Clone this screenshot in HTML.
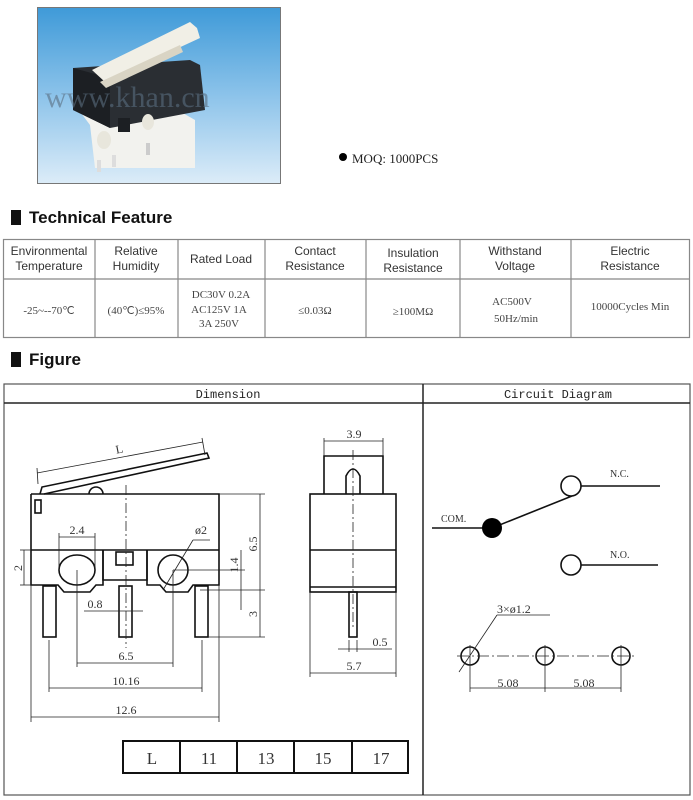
<!DOCTYPE html>
<html><head><meta charset="utf-8"><style>
html,body{margin:0;padding:0;background:#fff}
svg{display:block}
.s{font-family:"Liberation Serif",serif}
.a{font-family:"Liberation Sans",sans-serif}
.m{font-family:"Liberation Mono",monospace}
</style></head><body>
<svg width="693" height="800" viewBox="0 0 693 800" xmlns="http://www.w3.org/2000/svg">
<defs>
<linearGradient id="bg" x1="0" y1="0" x2="0" y2="1">
<stop offset="0" stop-color="#3f9ad8"/><stop offset="0.5" stop-color="#8cc3ea"/><stop offset="1" stop-color="#dcecf8"/>
</linearGradient>
</defs>
<!-- photo -->
<rect x="37.5" y="7.5" width="243" height="176" fill="url(#bg)" stroke="#777"/>
<polygon points="75,105 90,125 95,168 195,168 195,120 160,100" fill="#f2f2ee"/>
<polygon points="73,68 190,60 200,65 205,110 110,128 73,110" fill="#2a2e33"/>
<polygon points="73,68 110,78 110,128 73,110" fill="#1c1f23"/>
<polygon points="92,70 190,22 197,28 200,38 105,82" fill="#f1efe6"/>
<polygon points="100,82 180,45 183,52 106,88" fill="#d9d4c4"/>
<rect x="118" y="118" width="12" height="14" fill="#1c1f23"/>
<ellipse cx="104" cy="140" rx="7" ry="9" fill="#e8e6dc"/>
<ellipse cx="148" cy="122" rx="6" ry="8" fill="#e8e6dc"/>
<rect x="97" y="160" width="4" height="12" fill="#ddd"/><rect x="112" y="155" width="4" height="12" fill="#ddd"/><rect x="146" y="143" width="4" height="12" fill="#ccc"/>
<text x="45" y="107" class="s" font-size="30" fill="#5a6e80" opacity="0.6">www.khan.cn</text>
<circle cx="343" cy="157" r="4" fill="#000"/>
<text x="352" y="163" class="s" font-size="13" fill="#222">MOQ: 1000PCS</text>

<!-- technical feature -->
<rect x="11" y="210" width="10" height="15" fill="#111"/>
<text x="29" y="223" class="a" font-size="17" font-weight="bold" fill="#111">Technical Feature</text>
<g stroke="#888" stroke-width="1.2" fill="none">
<rect x="3.5" y="239.5" width="686" height="98"/>
<line x1="3" y1="279" x2="690" y2="279"/>
<line x1="95" y1="239" x2="95" y2="338"/><line x1="178" y1="239" x2="178" y2="338"/>
<line x1="265" y1="239" x2="265" y2="338"/><line x1="366" y1="239" x2="366" y2="338"/>
<line x1="460" y1="239" x2="460" y2="338"/><line x1="571" y1="239" x2="571" y2="338"/>
</g>
<g class="a" font-size="12" fill="#333" text-anchor="middle">
<text x="49" y="255">Environmental</text><text x="49" y="270">Temperature</text>
<text x="136" y="255">Relative</text><text x="136" y="270">Humidity</text>
<text x="221" y="263">Rated Load</text>
<text x="315" y="255">Contact</text><text x="315" y="270">Resistance</text>
<text x="413" y="257">Insulation</text><text x="413" y="272">Resistance</text>
<text x="515" y="255">Withstand</text><text x="515" y="270">Voltage</text>
<text x="630" y="255">Electric</text><text x="630" y="270">Resistance</text>
</g>
<g class="s" font-size="11" fill="#444" text-anchor="middle">
<text x="49" y="314">-25~--70℃</text>
<text x="136" y="314">(40℃)≤95%</text>
<text x="221" y="298">DC30V 0.2A</text><text x="219" y="313">AC125V 1A</text><text x="219" y="327">3A 250V</text>
<text x="315" y="314">≤0.03Ω</text>
<text x="413" y="315">≥100MΩ</text>
<text x="512" y="305">AC500V</text><text x="516" y="322">50Hz/min</text>
<text x="630" y="310">10000Cycles Min</text>
</g>

<!-- figure -->
<rect x="11" y="352" width="10" height="15" fill="#111"/>
<text x="29" y="365" class="a" font-size="17" font-weight="bold" fill="#111">Figure</text>
<g stroke="#555" fill="none">
<rect x="4" y="384" width="686" height="411" stroke-width="1.2"/>
<line x1="4" y1="403" x2="690" y2="403" stroke="#222" stroke-width="1.5"/>
<line x1="423" y1="384" x2="423" y2="795" stroke="#222" stroke-width="1.5"/>
</g>
<text x="228" y="398" class="m" font-size="12" fill="#222" text-anchor="middle">Dimension</text>
<text x="558" y="398" class="m" font-size="12" fill="#222" text-anchor="middle">Circuit Diagram</text>

<!-- dimension drawing -->
<g stroke="#111" fill="none" stroke-width="1.6">
<path d="M31,494 H219 V585 H193 L188,592 H166 L160,585 H147 V550 M31,494 V585 H58 L64,592 H90 L96,585 H103 V550"/>
<line x1="31" y1="550" x2="219" y2="550"/>
<path d="M103,550 V580 H147 V550"/>
<ellipse cx="77" cy="570" rx="18" ry="15"/>
<circle cx="173" cy="570" r="15"/>
<rect x="116" y="552" width="17" height="13"/>
<rect x="35" y="500" width="6" height="13"/>
<rect x="43" y="586" width="13" height="51"/>
<rect x="119" y="586" width="13" height="51"/>
<rect x="195" y="586" width="13" height="51"/>
<path d="M40,494 L42,487 L207,453 L209,458 L44,494"/>
<path d="M89,494 A7,7 0 0 1 103,494"/>
<rect x="310" y="494" width="86" height="98"/>
<line x1="310" y1="550" x2="396" y2="550"/>
<line x1="310" y1="587" x2="396" y2="587"/>
<path d="M324,494 V456 H383 V494"/>
<path d="M346,494 V476 Q353,462 360,476 V494"/>
<rect x="349" y="592" width="8" height="45"/>
</g>
<g stroke="#222" stroke-width="0.8" fill="none">
<line x1="126" y1="485" x2="126" y2="648" stroke-dasharray="10,3,2,3"/>
<line x1="353" y1="450" x2="353" y2="630" stroke-dasharray="10,3,2,3"/>
<line x1="37" y1="473" x2="203" y2="442"/><line x1="37" y1="468" x2="38" y2="484"/><line x1="202" y1="438" x2="205" y2="455"/>
<line x1="219" y1="494" x2="265" y2="494"/><line x1="200" y1="590" x2="265" y2="590"/><line x1="208" y1="637" x2="265" y2="637"/>
<line x1="260" y1="494" x2="260" y2="637"/>
<line x1="173" y1="570" x2="245" y2="570"/><line x1="241" y1="550" x2="241" y2="610"/>
<line x1="20" y1="550" x2="31" y2="550"/><line x1="20" y1="585" x2="31" y2="585"/><line x1="24" y1="550" x2="24" y2="585"/>
<line x1="59" y1="537" x2="95" y2="537"/><line x1="59" y1="533" x2="59" y2="570"/><line x1="95" y1="533" x2="95" y2="570"/>
<line x1="163" y1="590" x2="193" y2="540"/><line x1="193" y1="540" x2="210" y2="540"/>
<line x1="84" y1="611" x2="143" y2="611"/>
<line x1="77" y1="570" x2="77" y2="667"/><line x1="173" y1="570" x2="173" y2="667"/>
<line x1="77" y1="663" x2="173" y2="663"/>
<line x1="49" y1="640" x2="49" y2="692"/><line x1="202" y1="640" x2="202" y2="692"/>
<line x1="49" y1="688" x2="202" y2="688"/>
<line x1="31" y1="585" x2="31" y2="722"/><line x1="219" y1="585" x2="219" y2="722"/>
<line x1="31" y1="717" x2="219" y2="717"/>
<line x1="324" y1="438" x2="324" y2="456"/><line x1="383" y1="438" x2="383" y2="456"/><line x1="324" y1="441" x2="383" y2="441"/>
<line x1="310" y1="592" x2="310" y2="677"/><line x1="396" y1="592" x2="396" y2="677"/><line x1="310" y1="673" x2="396" y2="673"/>
<line x1="349" y1="640" x2="349" y2="652"/><line x1="357" y1="640" x2="357" y2="652"/><line x1="338" y1="649" x2="392" y2="649"/>
</g>
<g class="s" font-size="12" fill="#333" text-anchor="middle">
<text x="120" y="453" transform="rotate(-11 120 453)">L</text>
<text x="77" y="534">2.4</text>
<text x="201" y="534">ø2</text>
<text x="95" y="608">0.8</text>
<text x="126" y="660">6.5</text>
<text x="126" y="685">10.16</text>
<text x="126" y="714">12.6</text>
<text x="354" y="438">3.9</text>
<text x="354" y="670">5.7</text>
<text x="380" y="646">0.5</text>
<text transform="translate(257 544) rotate(-90)">6.5</text>
<text transform="translate(238 565) rotate(-90)">1.4</text>
<text transform="translate(257 614) rotate(-90)">3</text>
<text transform="translate(22 568) rotate(-90)">2</text>
</g>
<g stroke="#111" stroke-width="2" fill="none">
<rect x="123" y="741" width="285" height="32"/>
<line x1="180" y1="741" x2="180" y2="773"/><line x1="237" y1="741" x2="237" y2="773"/>
<line x1="294" y1="741" x2="294" y2="773"/><line x1="352" y1="741" x2="352" y2="773"/>
</g>
<g class="s" font-size="17" fill="#333" text-anchor="middle">
<text x="152" y="764">L</text><text x="209" y="764">11</text><text x="266" y="764">13</text><text x="323" y="764">15</text><text x="381" y="764">17</text>
</g>

<!-- circuit -->
<g stroke="#111" stroke-width="1.6" fill="none">
<line x1="432" y1="528" x2="492" y2="528"/>
<line x1="492" y1="528" x2="572" y2="496"/>
<circle cx="571" cy="486" r="10" fill="#fff"/>
<line x1="581" y1="486" x2="660" y2="486"/>
<circle cx="571" cy="565" r="10" fill="#fff"/>
<line x1="581" y1="565" x2="658" y2="565"/>
<circle cx="470" cy="656" r="9"/><circle cx="545" cy="656" r="9"/><circle cx="621" cy="656" r="9"/>
</g>
<circle cx="492" cy="528" r="10" fill="#000"/>
<g stroke="#222" stroke-width="0.8" fill="none">
<line x1="457" y1="656" x2="634" y2="656" stroke-dasharray="12,3,2,3"/>
<line x1="470" y1="645" x2="470" y2="692"/><line x1="545" y1="645" x2="545" y2="692"/><line x1="621" y1="645" x2="621" y2="692"/>
<line x1="470" y1="688" x2="621" y2="688"/>
<line x1="497" y1="615" x2="550" y2="615"/><line x1="497" y1="615" x2="459" y2="672"/>
</g>
<g class="s" font-size="10" fill="#333">
<text x="441" y="522">COM.</text>
<text x="610" y="477">N.C.</text>
<text x="610" y="558">N.O.</text>
<text x="497" y="613" font-size="12">3×ø1.2</text>
<text x="508" y="687" font-size="12" text-anchor="middle">5.08</text>
<text x="584" y="687" font-size="12" text-anchor="middle">5.08</text>
</g>
</svg>
</body></html>
